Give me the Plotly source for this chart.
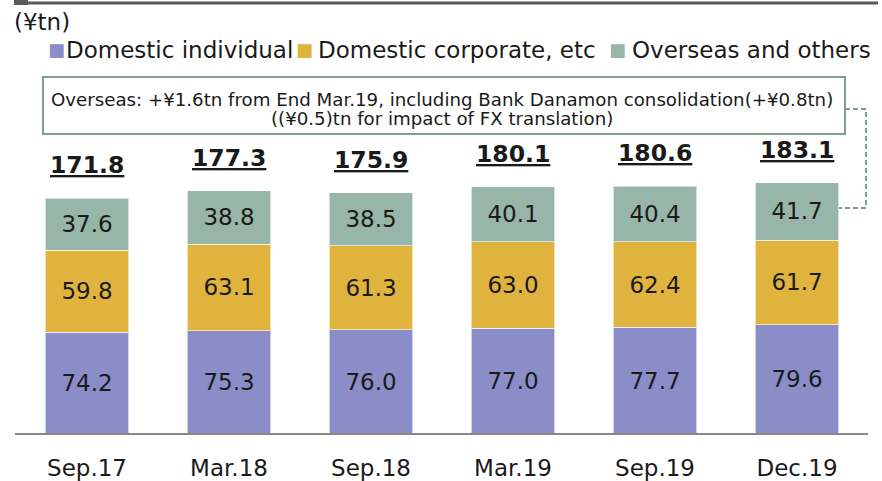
import plotly.graph_objects as go

categories = ["Sep.17", "Mar.18", "Sep.18", "Mar.19", "Sep.19", "Dec.19"]
domestic_individual = [74.2, 75.3, 76.0, 77.0, 77.7, 79.6]
domestic_corporate = [59.8, 63.1, 61.3, 63.0, 62.4, 61.7]
overseas_others = [37.6, 38.8, 38.5, 40.1, 40.4, 41.7]
totals = [171.8, 177.3, 175.9, 180.1, 180.6, 183.1]

series_names = ["Domestic individual", "Domestic corporate, etc", "Overseas and others"]
colors = ["#8B8DC8", "#E0B33F", "#97B5A8"]
unit_label = "(¥tn)"
note_line1 = "Overseas: +¥1.6tn from End Mar.19, including Bank Danamon consolidation(+¥0.8tn)"
note_line2 = "((¥0.5)tn for impact of FX translation)"

W, H = 882, 481
L, R, T, B = 16, 14, 132, 47
PW, PH = W - L - R, H - T - B
FONT = "DejaVu Sans"


def px(x):
    return (x - L) / PW


def py(y):
    return (H - B - y) / PH


fig = go.Figure()
for name, vals, col in zip(series_names, [domestic_individual, domestic_corporate, overseas_others], colors):
    fig.add_trace(go.Bar(
        x=categories, y=vals, name=name,
        marker=dict(color=col, line=dict(color="rgba(255,255,255,0.6)", width=1)),
        text=[f"{v:.1f}" for v in vals],
        textposition="inside", insidetextanchor="middle", textangle=0,
        textfont=dict(family=FONT, size=23, color="#1a1a1a"),
        constraintext="none",
        showlegend=False,
    ))

annotations = []
for c, t in zip(categories, totals):
    annotations.append(dict(
        x=c, y=t, xref="x", yref="y", yshift=33, showarrow=False,
        text=f"<b><u>{t:.1f}</u></b>",
        font=dict(family=FONT, size=23.5, color="#1a1a1a"),
    ))

# unit label
annotations.append(dict(x=px(12), y=py(22), xref="paper", yref="paper", xanchor="left", yanchor="middle",
                        showarrow=False, text=unit_label, font=dict(family=FONT, size=23, color="#1a1a1a")))

# legend (as annotations)
leg_sq = [56, 304, 617]
leg_tx = [64, 316, 630]
for sx, tx, name, col in zip(leg_sq, leg_tx, series_names, colors):
    annotations.append(dict(x=px(sx), y=py(50), xref="paper", yref="paper", xanchor="center", yanchor="middle",
                            showarrow=False, text="■", font=dict(family=FONT, size=18, color=col)))
    annotations.append(dict(x=px(tx), y=py(50), xref="paper", yref="paper", xanchor="left", yanchor="middle",
                            showarrow=False, text=name, font=dict(family=FONT, size=23, color="#1a1a1a")))

# note text
annotations.append(dict(x=px(442), y=py(99), xref="paper", yref="paper", xanchor="center", yanchor="middle",
                        showarrow=False, text=note_line1, font=dict(family=FONT, size=18.2, color="#1a1a1a")))
annotations.append(dict(x=px(442), y=py(119), xref="paper", yref="paper", xanchor="center", yanchor="middle",
                        showarrow=False, text=note_line2, font=dict(family=FONT, size=18.2, color="#1a1a1a")))

shapes = [
    # top rule
    dict(type="line", xref="paper", yref="paper", x0=px(14), x1=px(878), y0=py(3), y1=py(3),
         line=dict(color="#5a5a5a", width=3)),
    dict(type="rect", xref="paper", yref="paper", x0=px(14), x1=px(28), y0=py(0), y1=py(5),
         line=dict(width=0), fillcolor="#5a5a5a"),
    # note box
    dict(type="rect", xref="paper", yref="paper", x0=px(43), x1=px(845), y0=py(134), y1=py(77),
         line=dict(color="#7FA08F", width=2), fillcolor="white"),
    # dashed connector
    dict(type="path", xref="paper", yref="paper",
         path=f"M {px(845)} {py(109)} L {px(866)} {py(109)} L {px(866)} {py(208)} L {px(839)} {py(208)}",
         line=dict(color="#7FA08F", width=2, dash="5px,3px")),
    # baseline
    dict(type="line", xref="paper", yref="paper", x0=px(15), x1=px(868), y0=0, y1=0,
         line=dict(color="#888888", width=2)),
]

fig.update_layout(
    width=W, height=H, autosize=False,
    margin=dict(l=L, r=R, t=T, b=B),
    paper_bgcolor="white", plot_bgcolor="white",
    barmode="stack", bargap=0.415,
    showlegend=False,
    annotations=annotations, shapes=shapes,
    xaxis=dict(showgrid=False, zeroline=False, showline=False, ticks="", automargin=False,
               tickfont=dict(family=FONT, size=23, color="#1a1a1a"), ticklabelstandoff=18),
    yaxis=dict(range=[0, 220], visible=False, showgrid=False, zeroline=False, automargin=False),
)

fig.write_html("out.html", config={"displayModeBar": False, "responsive": False},
               post_script="document.body.style.margin='0';document.body.style.overflow='hidden';")
